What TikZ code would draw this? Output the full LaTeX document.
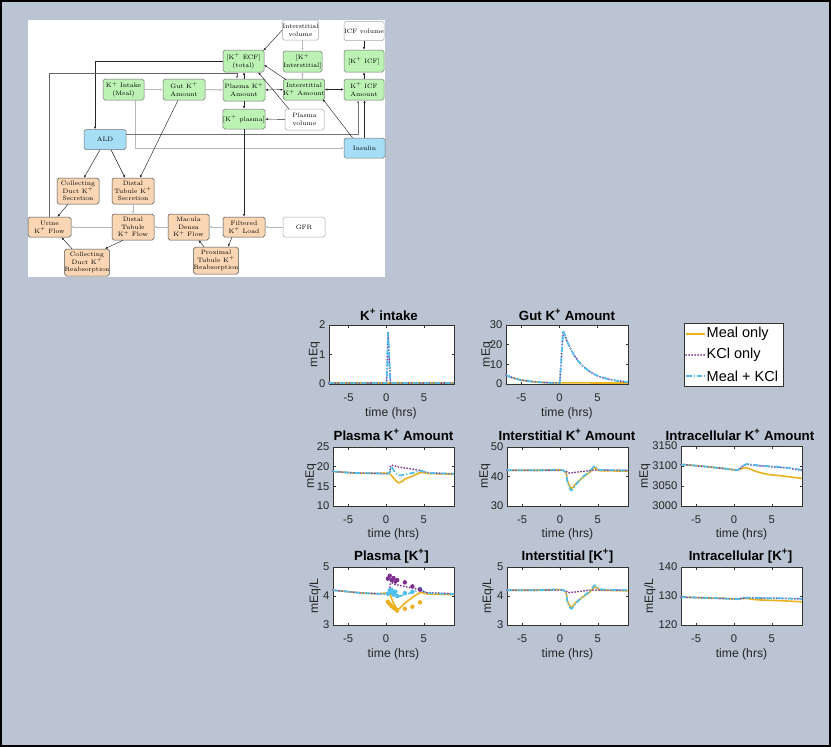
\documentclass[tikz,border=0pt]{standalone}
\usepackage{fontspec}
\newfontfamily\pf{Liberation Sans}
\usetikzlibrary{arrows.meta}
\definecolor{bg}{RGB}{186,196,211}
\definecolor{mealc}{RGB}{237,177,32}
\definecolor{kclc}{RGB}{126,47,142}
\definecolor{bothc}{RGB}{77,190,238}
\definecolor{gfill}{RGB}{188,242,180}
\definecolor{bfill}{RGB}{166,222,245}
\definecolor{ofill}{RGB}{250,214,180}
% plot frame: #1 name, #2 left, #3 top, #4 right, #5 bottom, #6 xmin, #7 vmin, #8 vmax, #9 y ticks
\newcommand\kfr[9]{%
  \pgfmathsetmacro\kxs{(#4-#2)/(9-(#6))}%
  \pgfmathsetmacro\kxo{#2-(#6)*\kxs}%
  \pgfmathsetmacro\kys{(#5-#3)/(#8-#7)}%
  \pgfmathsetmacro\kyo{#5+(#7)*\kys}%
  \fill[white] (#2,#3) rectangle (#4,#5);
  \foreach \t in {-5,0,5}{%
    \draw[tickln] ({\kxo+\t*\kxs},#5) -- ++(0,-2.5);
    \draw[tickln] ({\kxo+\t*\kxs},#3) -- ++(0,2.5);
    \node[ticklab,anchor=base] (#1x\t) at ({\kxo+\t*\kxs},{#5+17}) {\t};
  }%
  \foreach \v in {#9}{%
    \draw[tickln] (#2,{\kyo-\v*\kys}) -- ++(2.5,0);
    \draw[tickln] (#4,{\kyo-\v*\kys}) -- ++(-2.5,0);
    \node[ticklab,anchor=east] (#1y\v) at ({#2-3.5},{\kyo-\v*\kys}) {\v};
  }%
  \draw[axfr] (#2,#3) rectangle (#4,#5);
}
\newcommand\kdata[1]{\begin{scope}[shift={(\kxo,\kyo)},xscale=\kxs,yscale=-\kys]#1\end{scope}}
\begin{document}
\begin{tikzpicture}[x=1pt,y=-1pt,
  dn/.style={draw=black!55, rounded corners=1.8pt, align=center, font=\fontsize{6.3}{7.8}\selectfont, inner sep=0pt, line width=0.5pt, minimum width=42pt, minimum height=21pt},
  gn/.style={dn, fill=gfill},
  bn/.style={dn, fill=bfill},
  on/.style={dn, fill=ofill, draw=black!70},
  wn/.style={dn, fill=white, draw=black!35},
  gline/.style={draw=black!28, line width=1pt, -{Latex[length=2.6pt,width=2.2pt]}},
  bline/.style={draw=black!85, line width=0.45pt, -{Latex[length=2.6pt,width=2.2pt]}},
  bboth/.style={draw=black!85, line width=0.45pt, {Latex[length=2.6pt,width=2.2pt]}-{Latex[length=2.6pt,width=2.2pt]}},
  axfr/.style={draw=black!80, line width=0.5pt},
  tickln/.style={draw=black!80, line width=0.5pt},
  ticklab/.style={font=\fontsize{11.2}{11.2}\pf, inner sep=0pt, text=black!85},
  axlab/.style={font=\fontsize{12.2}{12.2}\pf, inner sep=0pt, text=black!85},
  ttl/.style={font=\fontsize{13.3}{13.3}\pf\bfseries, inner sep=0pt},
  legt/.style={font=\fontsize{14.5}{14.5}\pf, inner sep=0pt, anchor=west},
  meal/.style={draw=mealc, line width=1.6pt, line join=round},
  kcl/.style={draw=kclc, line width=2pt, line cap=round, dash pattern=on 0pt off 3pt},
  both/.style={draw=bothc, line width=1.7pt, dash pattern=on 5.5pt off 2pt on 1.2pt off 2pt},
  mk/.style={circle, inner sep=0pt, minimum size=4.4pt},
  ebar/.style={line width=0.8pt}
]
\useasboundingbox (0,0) rectangle (831,747);
\fill[bg] (0,0) rectangle (831,747);
\draw[black, line width=2pt] (1,1) rectangle (830,746);

% ================= diagram =================
\fill[white] (28,20) rectangle (385,277);
\node[wn, minimum width=35pt, minimum height=20pt] (ivol) at (300.5,30) {Interstitial\\volume};
\node[wn, minimum width=40pt, minimum height=19pt] (icfvol) at (364,31) {ICF volume};
\node[gn, minimum width=41pt, minimum height=22pt] (kecf) at (243.5,61) {[K$^+$ ECF]\\(total)};
\node[gn, minimum width=39pt] (kint) at (302.5,61.5) {[K$^+$\\Interstitial]};
\node[gn, minimum width=40pt, minimum height=22pt] (kicf) at (364,61) {[K$^+$ ICF]};
\node[gn, minimum width=41pt] (intake) at (123.5,89.5) {K$^+$ Intake\\(Meal)};
\node[gn] (gut) at (184,89.5) {Gut K$^+$\\Amount};
\node[gn, minimum height=22pt] (plasma) at (244,90) {Plasma K$^+$\\Amount};
\node[gn, minimum width=40pt] (inter) at (304,89.5) {Interstitial\\K$^+$ Amount};
\node[gn, minimum width=40pt] (icf) at (364,89.5) {K$^+$ ICF\\Amount};
\node[gn, minimum height=20pt] (kpl) at (244,119) {[K$^+$ plasma]};
\node[wn, minimum width=39pt] (pvol) at (304.5,119.5) {Plasma\\volume};
\node[bn, minimum height=20pt] (ald) at (105,139.5) {ALD};
\node[bn, minimum width=41pt, minimum height=20pt] (ins) at (364.5,148) {Insulin};
\node[on, minimum height=26pt] (cds) at (78,191) {Collecting\\Duct K$^+$\\Secretion};
\node[on, minimum height=26pt] (dts) at (133,191) {Distal\\Tubule K$^+$\\Secretion};
\node[on, minimum width=43pt, minimum height=20pt] (urine) at (49.5,227) {Urine\\K$^+$ Flow};
\node[on, minimum height=26pt] (dtf) at (133,227) {Distal\\Tubule\\K$^+$ Flow};
\node[on, minimum width=41pt, minimum height=26pt] (md) at (188.5,227) {Macula\\Densa\\K$^+$ Flow};
\node[on, minimum height=20pt] (fl) at (244,227) {Filtered\\K$^+$ Load};
\node[wn, minimum height=20pt] (gfr) at (304,227) {GFR};
\node[on, minimum height=27pt] (cdr) at (87,262.5) {Collecting\\Duct K$^+$\\Reabsorption};
\node[on, minimum height=27pt] (ptr) at (216,260.5) {Proximal\\Tubule K$^+$\\Reabsorption};
\coordinate (uturn) at (237,73);

\draw[gline] (intake) -- (gut);
\draw[gline] (gut) -- (plasma);
\draw[bboth] (plasma) -- (inter);
\draw[bboth] (inter) -- (icf);
\draw[bline] (plasma) -- (kpl);
\draw[bline] (plasma.north) -- (plasma.north |- kecf.south);
\draw[gline] (kint.south |- inter.north) -- (kint.south);
\draw[gline] (kint.north |- ivol.south) -- (kint.north);
\draw[bline] (icfvol) -- (kicf);
\draw[bline] (icf) -- (kicf);
\draw[bline] (ivol.west) -- ([xshift=-1,yshift=-1]kecf.north east);
\draw[bline] ([xshift=3,yshift=-1]inter.north west) -- ([yshift=-4]kecf.east);
\draw[bline] ([xshift=4]pvol.north west) -- ([xshift=-6]kecf.south east);
\draw[bline] (pvol) -- (kpl);
\draw[bline] (kecf.west) -| ([xshift=-10]ald.north);
\draw[bline, draw=black!60, line width=0.6pt] (urine.north) |- (uturn) -- (uturn |- plasma.north);
\draw[gline] ([xshift=11.5]intake.south) |- (ins.west);
\draw[bline, draw=black!55, line width=0.6pt] ([yshift=5]ald.east) -| ([xshift=-6]icf.south);
\draw[bline] (ins.north) -- (ins.north |- icf.south);
\draw[bline] ([xshift=-12]ins.north) -- ([xshift=-2,yshift=1]inter.south east);
\draw[bline] ([xshift=-6]gut.south) -- ([xshift=7]dts.north);
\draw[bline] ([xshift=-5]ald.south) -- ([xshift=6]cds.north);
\draw[bline] ([xshift=6]ald.south) -- ([xshift=-8]dts.north);
\draw[bline] (kpl) -- (fl);
\draw[gline] (gfr) -- (fl);
\draw[gline] (fl) -- (md);
\draw[bline] ([xshift=-12]fl.south) -- ([xshift=12]ptr.north);
\draw[bline] ([xshift=-12]ptr.north) -- ([xshift=10]md.south);
\draw[gline] (md) -- (dtf);
\draw[gline] (dts) -- (dtf);
\draw[gline] (dtf) -- (urine);
\draw[bline] ([xshift=-10]cds.south) -- ([xshift=8]urine.north);
\draw[bline] ([xshift=-15]cdr.north) -- ([xshift=12]urine.south);
\draw[bline] ([xshift=-10]dtf.south) -- ([xshift=18]cdr.north);

% ================= plots =================
% --- K+ intake
\kfr{pa}{329}{325}{454}{384}{-7.6}{0}{2}{0,1,2}
\kdata{
  \draw[meal] (-7.6,0.03) -- (9,0.03);
  \draw[kcl] (-7.6,0.03) -- (0.05,0.03) -- (0.25,1.75) -- (0.55,0.03) -- (9,0.03);
  \draw[both] (-7.6,0.03) -- (0.05,0.03) -- (0.25,1.75) -- (0.55,0.03) -- (9,0.03);
}
\node[ttl,anchor=base] (ta) at (389,320) {K\textsuperscript{+} intake};
\node[axlab,anchor=base] (xa) at (391,416) {time (hrs)};
\node[axlab,rotate=90] (ya) at (314.5,354.5) {mEq};

% --- Gut K+ Amount
\kfr{pb}{506}{325}{628}{384}{-7}{0}{30}{0,10,20,30}
\kdata{
  \draw[meal] plot[smooth,tension=0.5] coordinates {(-7,4.5) (-6,3.0) (-5,2.0) (-4,1.4) (-3,1.0) (-2,0.75) (-1,0.6) (0,0.55) (2,0.55) (9,0.5)};
  \draw[kcl] plot[smooth,tension=0.5] coordinates {(-7,4.5) (-6,3.0) (-5,2.0) (-4,1.4) (-3,1.0) (-2,0.75) (-1,0.6) (0,0.55)} -- (0.05,0.55) -- (0.5,27) -- plot[smooth,tension=0.5] coordinates {(0.5,27) (1,21.8) (1.5,17.7) (2,14.3) (2.5,11.6) (3,9.4) (4,6.3) (5,4.2) (6,2.9) (7,2.0) (8,1.4) (9,1.0)};
  \draw[both] plot[smooth,tension=0.5] coordinates {(-7,4.5) (-6,3.0) (-5,2.0) (-4,1.4) (-3,1.0) (-2,0.75) (-1,0.6) (0,0.55)} -- (0.05,0.55) -- (0.5,27) -- plot[smooth,tension=0.5] coordinates {(0.5,27) (1,21.8) (1.5,17.7) (2,14.3) (2.5,11.6) (3,9.4) (4,6.3) (5,4.2) (6,2.9) (7,2.0) (8,1.4) (9,1.0)};
}
\node[ttl,anchor=base] (tb) at (567,320) {Gut K\textsuperscript{+} Amount};
\node[axlab,anchor=base] (xb) at (567,416) {time (hrs)};
\node[axlab,rotate=90] (yb) at (487,354.5) {mEq};

% --- legend
\draw[axfr, fill=white] (684,323) rectangle (783,386);
\coordinate (la1) at (686,334); \coordinate (lb1) at (705,334);
\coordinate (la2) at (686,355); \coordinate (lb2) at (705,355);
\coordinate (la3) at (686,376); \coordinate (lb3) at (705,376);
\draw[meal] (la1) -- (lb1);
\draw[kcl] (la2) -- (lb2);
\draw[both] (la3) -- (lb3);
\node[legt] (lg1) at (706.5,334) {Meal only};
\node[legt] (lg2) at (706.5,355) {KCl only};
\node[legt] (lg3) at (706.5,376) {Meal + KCl};

% --- Plasma K+ Amount
\kfr{pd}{333}{447}{454}{506}{-7}{10}{25}{10,15,20,25}
\kdata{
  \draw[meal] plot[smooth,tension=0.5] coordinates {(-7,18.8) (-5,18.5) (-3,18.35) (-1,18.3) (0.4,18.3) (1,17.1) (1.7,15.9) (2.5,16.8) (3.5,17.6) (4.6,18.5) (5.5,18.3) (7,18.2) (9,18.1)};
  \draw[kcl] plot[smooth,tension=0.5] coordinates {(-7,18.8) (-5,18.5) (-3,18.35) (-1,18.3) (0.4,18.3) (0.65,20.3) (1.5,20.0) (2.5,19.7) (3.5,19.4) (4.6,19.0) (5.5,18.5) (7,18.3) (9,18.2)};
  \draw[both] plot[smooth,tension=0.5] coordinates {(-7,18.8) (-5,18.5) (-3,18.35) (-1,18.3) (0.4,18.3) (0.7,20.0) (1.2,18.5) (1.7,17.8) (2.5,18.0) (3.5,18.4) (4.6,18.9) (5.5,18.5) (7,18.3) (9,18.2)};
}
\node[ttl,anchor=base] (td) at (393.5,440) {Plasma K\textsuperscript{+} Amount};
\node[axlab,anchor=base] (xd) at (393.5,537) {time (hrs)};
\node[axlab,rotate=90] (yd) at (311,476) {mEq};

% --- Interstitial K+ Amount
\kfr{pe}{507}{447}{628}{506}{-7}{30}{50}{30,40,50}
\kdata{
  \draw[meal] plot[smooth,tension=0.5] coordinates {(-7,42.1) (-3,42.1) (0.5,42.0) (1,38.5) (1.5,36.0) (2.2,37.8) (3,39.6) (4,41.6) (4.6,43.0) (5.2,42.0) (7,41.9) (9,41.8)};
  \draw[kcl] plot[smooth,tension=0.5] coordinates {(-7,42.1) (-3,42.1) (0.5,42.0) (1,41.2) (2,41.4) (3,41.7) (4,42.0) (5,42.2) (9,42.1)};
  \draw[both] plot[smooth,tension=0.5] coordinates {(-7,42.1) (-3,42.1) (0.5,42.0) (1,38.0) (1.5,35.3) (2.2,37.6) (3,39.8) (4,41.9) (4.6,43.6) (5.2,42.3) (7,42.1) (9,42.0)};
}
\node[ttl,anchor=base] (te) at (567,440) {Interstitial K\textsuperscript{+} Amount};
\node[axlab,anchor=base] (xe) at (567.5,537) {time (hrs)};
\node[axlab,rotate=90] (ye) at (485,476) {mEq};

% --- Intracellular K+ Amount
\kfr{pf}{681}{446}{802}{506}{-7}{3000}{3150}{3000,3050,3100,3150}
\kdata{
  \draw[meal] plot[smooth,tension=0.5] coordinates {(-7,3104) (-4,3099) (-1,3093) (0.5,3090) (1.5,3096) (3,3086) (4.5,3079) (6,3076) (9,3069)};
  \draw[kcl] plot[smooth,tension=0.5] coordinates {(-7,3104) (-4,3099) (-1,3093) (0.5,3090) (1.2,3100) (1.7,3104) (3,3101) (5,3098) (7,3095) (9,3089)};
  \draw[both] plot[smooth,tension=0.5] coordinates {(-7,3104) (-4,3099) (-1,3093) (0.5,3090) (1.2,3101) (1.7,3105) (3,3102) (5,3099) (7,3096) (9,3090)};
}
\node[ttl,anchor=base] (tf) at (740,440) {Intracellular K\textsuperscript{+} Amount};
\node[axlab,anchor=base] (xf) at (741.5,537) {time (hrs)};
\node[axlab,rotate=90] (yf) at (645,476) {mEq};

% --- Plasma [K+]
\kfr{pg}{333}{567}{454}{625}{-7}{3}{5}{3,4,5}
\kdata{
  \draw[meal] plot[smooth,tension=0.5] coordinates {(-7,4.2) (-5,4.15) (-3,4.1) (-1,4.08) (0.4,4.08) (1,3.75) (1.6,3.55) (2.5,3.75) (3.5,3.95) (4.6,4.12) (5.5,4.07) (9,4.05)};
  \draw[kcl] plot[smooth,tension=0.5] coordinates {(-7,4.2) (-5,4.15) (-3,4.1) (-1,4.08) (0.4,4.08) (0.6,4.45) (1.2,4.4) (2.5,4.33) (3.5,4.28) (4.6,4.2) (5.5,4.12) (9,4.08)};
  \draw[both] plot[smooth,tension=0.5] coordinates {(-7,4.2) (-5,4.15) (-3,4.1) (-1,4.08) (0.4,4.08) (0.7,4.3) (1.2,4.05) (1.6,3.98) (2.5,4.05) (3.5,4.12) (4.6,4.22) (5.5,4.1) (9,4.07)};
  \foreach \t/\v [count=\i] in {0.25/3.8,0.5/3.72,0.75/3.65,1/3.6,1.25/3.55,1.5/3.5,2.5/3.56,3.5/3.63,4.5/3.78}{
    \draw[ebar,mealc] (\t,\v-0.07) -- (\t,\v+0.07);
    \node[mk,fill=mealc] (dm\i) at (\t,\v) {};
  }
  \foreach \t/\v [count=\i] in {0.25/4.08,0.5/4.2,0.75/4.12,1/4.05,1.25/4.15,1.5/4.0,2.5/4.1,3.5/4.15,4.5/4.25}{
    \draw[ebar,bothc] (\t,\v-0.07) -- (\t,\v+0.07);
    \node[mk,fill=bothc] (db\i) at (\t,\v) {};
  }
  \foreach \t/\v [count=\i] in {0.25/4.6,0.5/4.7,0.75/4.55,1/4.62,1.25/4.5,1.5/4.55,2.5/4.47,3.5/4.33,4.5/4.22}{
    \draw[ebar,kclc] (\t,\v-0.07) -- (\t,\v+0.07);
    \node[mk,fill=kclc] (dk\i) at (\t,\v) {};
  }
}
\node[ttl,anchor=base] (tg) at (391.5,560) {Plasma [K\textsuperscript{+}]};
\node[axlab,anchor=base] (xg) at (393.5,657) {time (hrs)};
\node[axlab,rotate=90] (yg) at (315,596) {mEq/L};

% --- Interstitial [K+]
\kfr{ph}{507}{567}{628}{625}{-7}{3}{5}{3,4,5}
\kdata{
  \draw[meal] plot[smooth,tension=0.5] coordinates {(-7,4.2) (-3,4.2) (0.5,4.2) (1,3.82) (1.5,3.62) (2.1,3.78) (3,3.96) (4,4.15) (4.6,4.32) (5.2,4.22) (7,4.19) (9,4.18)};
  \draw[kcl] plot[smooth,tension=0.5] coordinates {(-7,4.2) (-3,4.2) (0.5,4.2) (1,4.12) (2,4.14) (3,4.17) (4,4.2) (9,4.2)};
  \draw[both] plot[smooth,tension=0.5] coordinates {(-7,4.2) (-3,4.2) (0.5,4.2) (1,3.78) (1.5,3.56) (2.1,3.75) (3,3.97) (4,4.18) (4.6,4.37) (5.2,4.24) (7,4.21) (9,4.2)};
}
\node[ttl,anchor=base] (th) at (567.5,560) {Interstitial [K\textsuperscript{+}]};
\node[axlab,anchor=base] (xh) at (567.5,657) {time (hrs)};
\node[axlab,rotate=90] (yh) at (488,596) {mEq/L};

% --- Intracellular [K+]
\kfr{pi}{681}{567}{802}{625}{-7}{120}{140}{120,130,140}
\kdata{
  \draw[meal] plot[smooth,tension=0.5] coordinates {(-7,129.6) (-3,129.3) (0,129.0) (0.5,128.9) (1.5,129.2) (3,128.7) (6,128.4) (9,128.0)};
  \draw[kcl] plot[smooth,tension=0.5] coordinates {(-7,129.6) (-3,129.3) (0,129.0) (0.5,128.9) (1.5,129.4) (3,129.3) (6,129.2) (9,129.0)};
  \draw[both] plot[smooth,tension=0.5] coordinates {(-7,129.6) (-3,129.3) (0,129.0) (0.5,128.9) (1.5,129.4) (3,129.3) (6,129.2) (9,129.0)};
}
\node[ttl,anchor=base] (ti) at (740.5,560) {Intracellular [K\textsuperscript{+}]};
\node[axlab,anchor=base] (xi) at (741.5,657) {time (hrs)};
\node[axlab,rotate=90] (yi) at (650,596) {mEq/L};
\end{tikzpicture}
\end{document}
